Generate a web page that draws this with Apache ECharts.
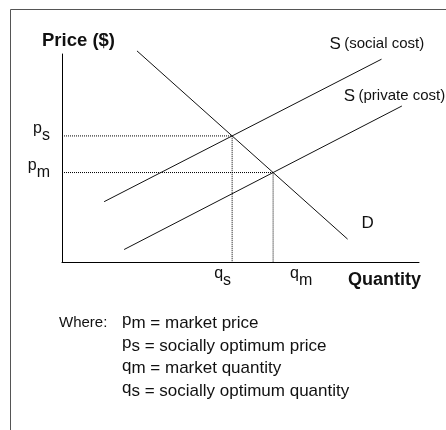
<!DOCTYPE html>
<html>
<head>
<meta charset="utf-8">
<script src="https://cdn.jsdelivr.net/npm/echarts@6/dist/echarts.min.js"></script>
<style>
  html, body { margin: 0; padding: 0; background: #fff; }
  #chart { width: 446px; height: 430px; }
</style>
</head>
<body>
<div id="chart"></div>
<script>
// Curve end points in chart units: [quantity, price], both on a 0–100 scale
const demandLine = [[21, 101.5], [80, 11]];
const socialSupplyLine = [[11.8, 29], [89.5, 97.5]];
const privateSupplyLine = [[17.4, 6], [95.2, 75]];

// Curve labels: [main letter, parenthetical]
const demandLabel = ['D', ''];
const socialSupplyLabel = ['S', '(social cost)'];
const privateSupplyLabel = ['S', '(private cost)'];

// Axis titles and tick symbols: [letter, subscript]
const priceTitle = 'Price ($)';
const quantityTitle = 'Quantity';
const socialPriceTick = ['p', 's'];
const marketPriceTick = ['p', 'm'];
const socialQuantityTick = ['q', 's'];
const marketQuantityTick = ['q', 'm'];

// Key below the chart: [letter, subscript, meaning]
const keyIntro = 'Where:';
const keyRows = [
  ['p', 'm', 'market price'],
  ['p', 's', 'socially optimum price'],
  ['q', 'm', 'market quantity'],
  ['q', 's', 'socially optimum quantity']
];

// Where two straight segments cross: returns [quantity, price]
function crossing(a, b) {
  const [[x1, y1], [x2, y2]] = a;
  const [[x3, y3], [x4, y4]] = b;
  const m1 = (y2 - y1) / (x2 - x1);
  const m2 = (y4 - y3) / (x4 - x3);
  const x = (y3 - y1 + m1 * x1 - m2 * x3) / (m1 - m2);
  return [x, y1 + m1 * (x - x1)];
}

const socialOptimum = crossing(demandLine, socialSupplyLine);   // [qs, ps]
const marketOutcome = crossing(demandLine, privateSupplyLine);  // [qm, pm]

const FONT = '"Liberation Sans", Arial, Helvetica, sans-serif';
const INK = '#111';

// Letter raised above its subscript
const symbolRich = {
  v:   { fontFamily: FONT, fontSize: 16, lineHeight: 16, verticalAlign: 'top', color: INK },
  sub: { fontFamily: FONT, fontSize: 16, lineHeight: 30, color: INK }
};

function symbolText(pair) {
  return '{v|' + pair[0] + '}{sub|' + pair[1] + '}';
}

function nearest(value, target) {
  return Math.abs(value - target) < 1e-6;
}

const curveRich = {
  big:   { fontFamily: FONT, fontSize: 17, color: INK },
  small: { fontFamily: FONT, fontSize: 15, color: INK }
};

function curveText(label) {
  return label[1] ? '{big|' + label[0] + '} {small|' + label[1] + '}' : '{big|' + label[0] + '}';
}

function curveSeries(name, data, label, offset) {
  return {
    name: name,
    type: 'line',
    data: data,
    symbol: 'none',
    clip: false,
    silent: true,
    z: 3,
    lineStyle: { color: INK, width: 1 },
    endLabel: {
      show: true,
      formatter: () => curveText(label),
      offset: offset,
      rich: curveRich
    }
  };
}

// Dotted guide from the price axis to a crossing and down to the quantity axis,
// with the quantity symbol written under its foot
function guideSeries(point, quantityTick, labelOffset) {
  return {
    type: 'line',
    data: [[0, point[1]], [point[0], point[1]], [point[0], 0]],
    symbol: 'none',
    silent: true,
    z: 2,
    lineStyle: { color: '#000', width: 1, type: [1, 1] },
    endLabel: {
      show: true,
      formatter: () => symbolText(quantityTick),
      offset: labelOffset,
      rich: symbolRich
    }
  };
}

const keyText = keyRows.map((row, i) =>
  '{w|' + (i === 0 ? keyIntro : ' ') + '}{v|' + row[0] + '}{sub|' + row[1] + '}{t| = ' + row[2] + '}'
).join('\n');

const chart = echarts.init(document.getElementById('chart'), null, { renderer: 'canvas' });

chart.setOption({
  animation: false,
  backgroundColor: '#fff',
  graphic: [{
    type: 'rect',
    shape: { x: 10.5, y: 9.5, width: 600, height: 600 },
    style: { fill: 'none', stroke: '#555', lineWidth: 1 },
    silent: true
  }],
  title: {
    text: keyText,
    left: 59,
    top: 312,
    padding: 0,
    textStyle: {
      fontFamily: FONT,
      fontWeight: 'normal',
      color: INK,
      rich: {
        w:   { fontFamily: FONT, fontSize: 15, lineHeight: 22.7, width: 63, color: INK },
        v:   { fontFamily: FONT, fontSize: 17, lineHeight: 10, verticalAlign: 'top', color: INK },
        sub: { fontFamily: FONT, fontSize: 17, lineHeight: 22.7, color: INK },
        t:   { fontFamily: FONT, fontSize: 17, lineHeight: 22.7, color: INK }
      }
    }
  },
  grid: { left: 62, top: 54, width: 357, height: 208, containLabel: false },
  xAxis: {
    type: 'value',
    min: 0,
    max: 100,
    splitLine: { show: false },
    axisTick: { show: false },
    axisLine: { show: true, lineStyle: { color: '#000', width: 1 } },
    axisLabel: { show: false },
    name: quantityTitle,
    nameLocation: 'end',
    nameGap: 2,
    nameTextStyle: {
      fontFamily: FONT, fontSize: 18, fontWeight: 'bold', color: INK,
      align: 'right', verticalAlign: 'top', padding: [9, 0, 0, 0]
    }
  },
  yAxis: {
    type: 'value',
    min: 0,
    max: 100,
    splitLine: { show: false },
    axisTick: { show: false },
    axisLine: { show: true, lineStyle: { color: '#000', width: 1 } },
    axisLabel: {
      show: true,
      hideOverlap: false,
      showMinLabel: true,
      showMaxLabel: true,
      customValues: [socialOptimum[1], marketOutcome[1]],
      margin: 12,
      formatter: v => nearest(v, socialOptimum[1])
        ? symbolText(socialPriceTick)
        : symbolText(marketPriceTick),
      rich: symbolRich
    },
    name: priceTitle,
    nameLocation: 'end',
    nameGap: 4,
    nameTextStyle: {
      fontFamily: FONT, fontSize: 18.5, fontWeight: 'bold', color: INK,
      align: 'center', padding: [0, 0, 0, 33]
    }
  },
  series: [
    guideSeries(socialOptimum, socialQuantityTick, [-26, 19]),
    guideSeries(marketOutcome, marketQuantityTick, [9, 19]),
    curveSeries('D', demandLine, demandLabel, [6, -16]),
    curveSeries('S social', socialSupplyLine, socialSupplyLabel, [-60, -15]),
    curveSeries('S private', privateSupplyLine, privateSupplyLabel, [-66, -10])
  ]
});
</script>
</body>
</html>
